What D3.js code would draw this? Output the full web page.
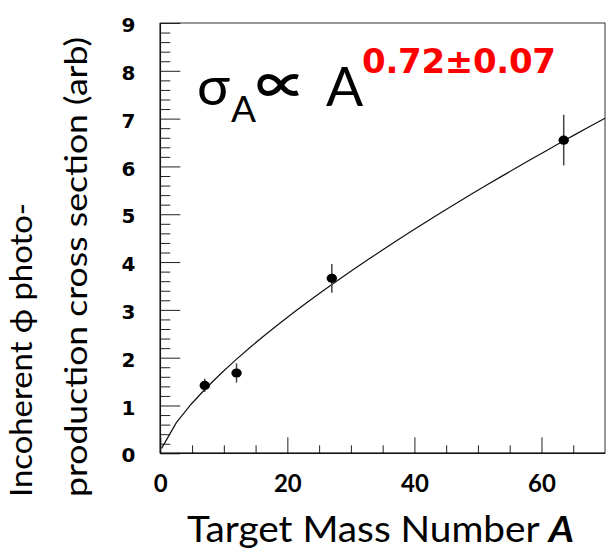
<!DOCTYPE html>
<html>
<head>
<meta charset="utf-8">
<script src="https://cdn.jsdelivr.net/npm/d3@7"></script>
<style>
  body { margin: 0; background: #fff; }
  svg { display: block; }
</style>
</head>
<body>
<svg id="chart" width="616" height="556"></svg>
<script>
// Measured cross sections per target nucleus
const massNumbers = [7, 12, 27, 63.5];
const crossSections = [1.42, 1.68, 3.66, 6.55];
const crossSectionErrors = [0.14, 0.20, 0.30, 0.53];

// Power-law fit sigma = N * A^alpha
const fitExponent = 0.72;
const fitExponentError = 0.07;
const fitNorm = 0.329;

// Axis ticks
const xMajorTicks = [0, 20, 40, 60];
const xMinorTicks = [5, 10, 15, 25, 30, 35, 45, 50, 55, 65];
const yMajorTicks = [0, 1, 2, 3, 4, 5, 6, 7, 8, 9];

const svg = d3.select("#chart");
const frame = { left: 160.3, right: 605, top: 23, bottom: 453.3 };

const x = d3.scaleLinear().domain([0, 70]).range([frame.left, frame.right]);
const y = d3.scaleLinear().domain([0, 9]).range([frame.bottom, frame.top]);

const yMinorTicks = d3.range(0, 9.001, 0.2)
  .map(v => Math.round(v * 10) / 10)
  .filter(v => Math.abs(v - Math.round(v)) > 1e-6);

// Frame
svg.append("rect")
  .attr("x", frame.left).attr("y", frame.top)
  .attr("width", frame.right - frame.left)
  .attr("height", frame.bottom - frame.top)
  .attr("fill", "none").attr("stroke", "#333").attr("stroke-width", 1);

// Y axis: major ticks with labels, minor ticks pointing into the plot
const yAxisMajor = svg.append("g")
  .attr("transform", `translate(${frame.left},0)`)
  .call(d3.axisLeft(y).tickValues(yMajorTicks).tickFormat(d3.format("d"))
    .tickSizeInner(-20).tickSizeOuter(0).tickPadding(25));
svg.append("g")
  .attr("transform", `translate(${frame.left},0)`)
  .call(d3.axisLeft(y).tickValues(yMinorTicks).tickFormat("")
    .tickSizeInner(-10).tickSizeOuter(0));

// X axis
const xAxisMajor = svg.append("g")
  .attr("transform", `translate(0,${frame.bottom})`)
  .call(d3.axisBottom(x).tickValues(xMajorTicks).tickFormat(d3.format("d"))
    .tickSizeInner(-16).tickSizeOuter(0).tickPadding(22));
svg.append("g")
  .attr("transform", `translate(0,${frame.bottom})`)
  .call(d3.axisBottom(x).tickValues(xMinorTicks).tickFormat("")
    .tickSizeInner(-8).tickSizeOuter(0));

svg.selectAll(".domain").remove();
svg.selectAll(".tick line").attr("stroke", "#222").attr("stroke-width", 1);

yAxisMajor.selectAll("text")
  .attr("font-family", "DejaVu Sans").attr("font-weight", "bold")
  .attr("font-size", 20).attr("dy", "0.43em").attr("fill", "#000");
xAxisMajor.selectAll("text")
  .attr("font-family", "Lato").attr("font-weight", "bold")
  .attr("font-size", 24).attr("fill", "#000");

// Axis lines
svg.append("line")
  .attr("x1", frame.left).attr("x2", frame.left)
  .attr("y1", frame.top).attr("y2", frame.bottom)
  .attr("stroke", "#111").attr("stroke-width", 1.5);
svg.append("line")
  .attr("x1", frame.left).attr("x2", frame.right)
  .attr("y1", frame.bottom).attr("y2", frame.bottom)
  .attr("stroke", "#111").attr("stroke-width", 1.5);

// Fit curve
const fitA = d3.range(0, 31).map(i => 0.2 + i * (70 - 0.2) / 30);
const fitLine = d3.line()
  .x(a => x(a))
  .y(a => y(fitNorm * Math.pow(a, fitExponent)));
svg.append("path")
  .datum(fitA)
  .attr("d", fitLine)
  .attr("fill", "none").attr("stroke", "#111").attr("stroke-width", 1.2);

// Data points with error bars
const points = massNumbers.map((a, i) => ({
  a, s: crossSections[i], e: crossSectionErrors[i]
}));
svg.append("g").selectAll("line")
  .data(points).join("line")
  .attr("x1", d => x(d.a)).attr("x2", d => x(d.a))
  .attr("y1", d => y(d.s - d.e)).attr("y2", d => y(d.s + d.e))
  .attr("stroke", "#444").attr("stroke-width", 1.5);
svg.append("g").selectAll("ellipse")
  .data(points).join("ellipse")
  .attr("cx", d => x(d.a)).attr("cy", d => y(d.s))
  .attr("rx", 5.2).attr("ry", 4.6)
  .attr("fill", "#000");

// Axis titles
svg.append("text")
  .attr("x", 380.5).attr("y", 541.7)
  .attr("text-anchor", "middle")
  .attr("font-family", "Lato").attr("font-size", 36).attr("fill", "#000")
  .attr("textLength", 387).attr("lengthAdjust", "spacingAndGlyphs")
  .call(t => {
    t.append("tspan").text("Target Mass Number ");
    t.append("tspan").attr("font-weight", "bold").attr("font-style", "italic").text("A");
  });

const yTitle = svg.append("g").attr("transform", "translate(0,497) rotate(-90)");
yTitle.append("text")
  .attr("x", 0).attr("y", 32)
  .attr("font-family", "Lato").attr("font-size", 31).attr("fill", "#000")
  .attr("textLength", 294).attr("lengthAdjust", "spacingAndGlyphs")
  .text("Incoherent \u03D5 photo-");
yTitle.append("text")
  .attr("x", 0).attr("y", 87)
  .attr("font-family", "Lato").attr("font-size", 31).attr("fill", "#000")
  .attr("textLength", 460).attr("lengthAdjust", "spacingAndGlyphs")
  .text("production cross section (arb)");

// Fit result annotation: sigma_A ∝ A^(alpha ± err)
const note = svg.append("g").attr("font-family", "Lato").attr("fill", "#000");
note.append("text").attr("x", 197).attr("y", 105).attr("font-size", 55).text("\u03C3");
note.append("text").attr("x", 231).attr("y", 121.7).attr("font-size", 37).text("A");
note.append("text").attr("x", 256).attr("y", 104).attr("font-size", 50)
  .attr("font-family", "Noto Sans CJK SC").attr("font-weight", "bold").text("\u221D");
note.append("text").attr("x", 326).attr("y", 106).attr("font-size", 55).text("A");
note.append("text").attr("x", 362).attr("y", 73.3)
  .attr("font-family", "DejaVu Sans").attr("font-weight", "bold")
  .attr("font-size", 34).attr("fill", "#f00")
  .attr("textLength", 194).attr("lengthAdjust", "spacing")
  .text(`${fitExponent.toFixed(2)}\u00B1${fitExponentError.toFixed(2)}`);
</script>
</body>
</html>
